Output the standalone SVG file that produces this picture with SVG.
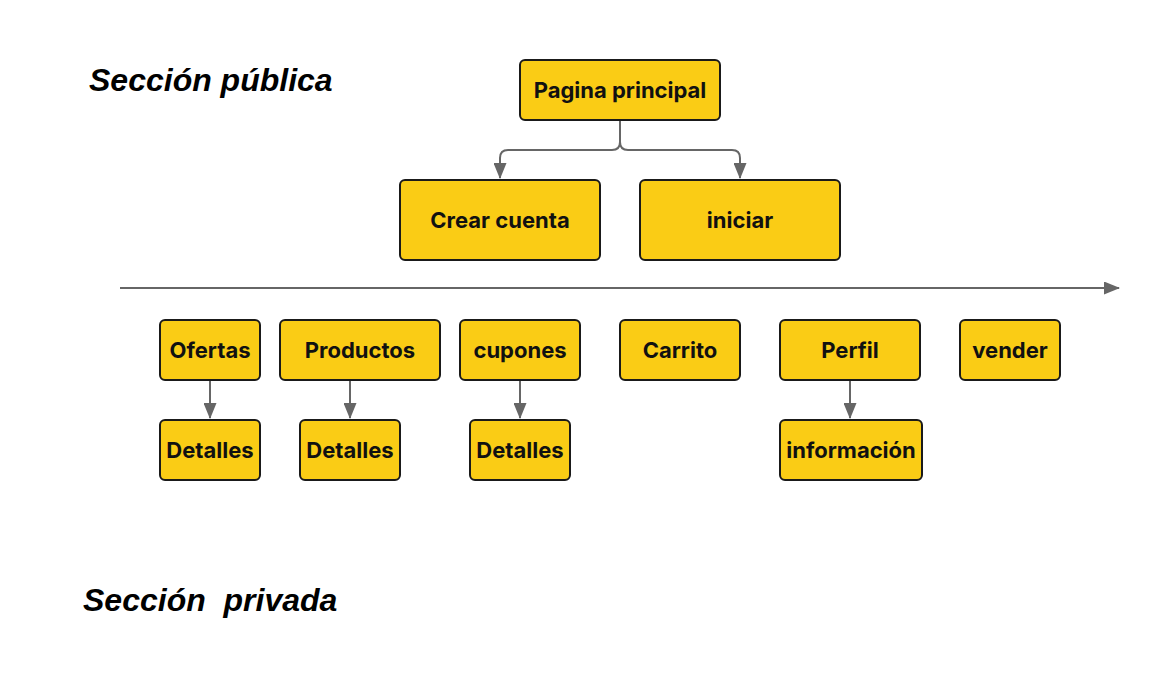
<svg xmlns="http://www.w3.org/2000/svg" width="1157" height="680" viewBox="0 0 1157 680">
<style>
.box{fill:#FACC15;stroke:#1a1a1a;stroke-width:2}
.lbl{font-family:Inter,"Liberation Sans",sans-serif;font-weight:700;font-size:22px;fill:#111;text-anchor:middle;dominant-baseline:central}
.title{font-family:"Liberation Sans",Arial,sans-serif;font-weight:700;font-style:italic;font-size:32px;fill:#000}
.con{fill:none;stroke:#666;stroke-width:2}
</style>
<defs>
<marker id="ah" viewBox="0 0 16 13" refX="15" refY="6.5" markerWidth="16" markerHeight="13" markerUnits="userSpaceOnUse" orient="auto">
<path d="M0,0 L16,6.5 L0,13 Z" fill="#666"/>
</marker>
</defs>
<rect width="1157" height="680" fill="#fff"/>
<text class="title" x="89" y="91">Sección pública</text>
<text class="title" x="83" y="611" xml:space="preserve">Sección  privada</text>
<g id="connectors">
<path class="con" d="M620,121 V142 Q620,150 612,150 H508 Q500,150 500,158 V178" marker-end="url(#ah)"/>
<path class="con" d="M620,142 Q620,150 628,150 H732 Q740,150 740,158 V178" marker-end="url(#ah)"/>
<path class="con" d="M120,288 H1119" marker-end="url(#ah)"/>
<path class="con" d="M210,381 V418" marker-end="url(#ah)"/>
<path class="con" d="M350,381 V418" marker-end="url(#ah)"/>
<path class="con" d="M520,381 V418" marker-end="url(#ah)"/>
<path class="con" d="M850,381 V418" marker-end="url(#ah)"/>
</g>
<g id="pagina"><rect class="box" x="520" y="60" width="200" height="60" rx="5"/><text class="lbl" x="620" y="90">Pagina principal</text></g>
<g id="crear"><rect class="box" x="400" y="180" width="200" height="80" rx="5"/><text class="lbl" x="500" y="220">Crear cuenta</text></g>
<g id="iniciar"><rect class="box" x="640" y="180" width="200" height="80" rx="5"/><text class="lbl" x="740" y="220">iniciar</text></g>
<g id="ofertas"><rect class="box" x="160" y="320" width="100" height="60" rx="5"/><text class="lbl" x="210" y="350">Ofertas</text></g>
<g id="productos"><rect class="box" x="280" y="320" width="160" height="60" rx="5"/><text class="lbl" x="360" y="350">Productos</text></g>
<g id="cupones"><rect class="box" x="460" y="320" width="120" height="60" rx="5"/><text class="lbl" x="520" y="350">cupones</text></g>
<g id="carrito"><rect class="box" x="620" y="320" width="120" height="60" rx="5"/><text class="lbl" x="680" y="350">Carrito</text></g>
<g id="perfil"><rect class="box" x="780" y="320" width="140" height="60" rx="5"/><text class="lbl" x="850" y="350">Perfil</text></g>
<g id="vender"><rect class="box" x="960" y="320" width="100" height="60" rx="5"/><text class="lbl" x="1010" y="350">vender</text></g>
<g id="detalles1"><rect class="box" x="160" y="420" width="100" height="60" rx="5"/><text class="lbl" x="210" y="450">Detalles</text></g>
<g id="detalles2"><rect class="box" x="300" y="420" width="100" height="60" rx="5"/><text class="lbl" x="350" y="450">Detalles</text></g>
<g id="detalles3"><rect class="box" x="470" y="420" width="100" height="60" rx="5"/><text class="lbl" x="520" y="450">Detalles</text></g>
<g id="informacion"><rect class="box" x="780" y="420" width="142" height="60" rx="5"/><text class="lbl" x="851" y="450">información</text></g>
</svg>
